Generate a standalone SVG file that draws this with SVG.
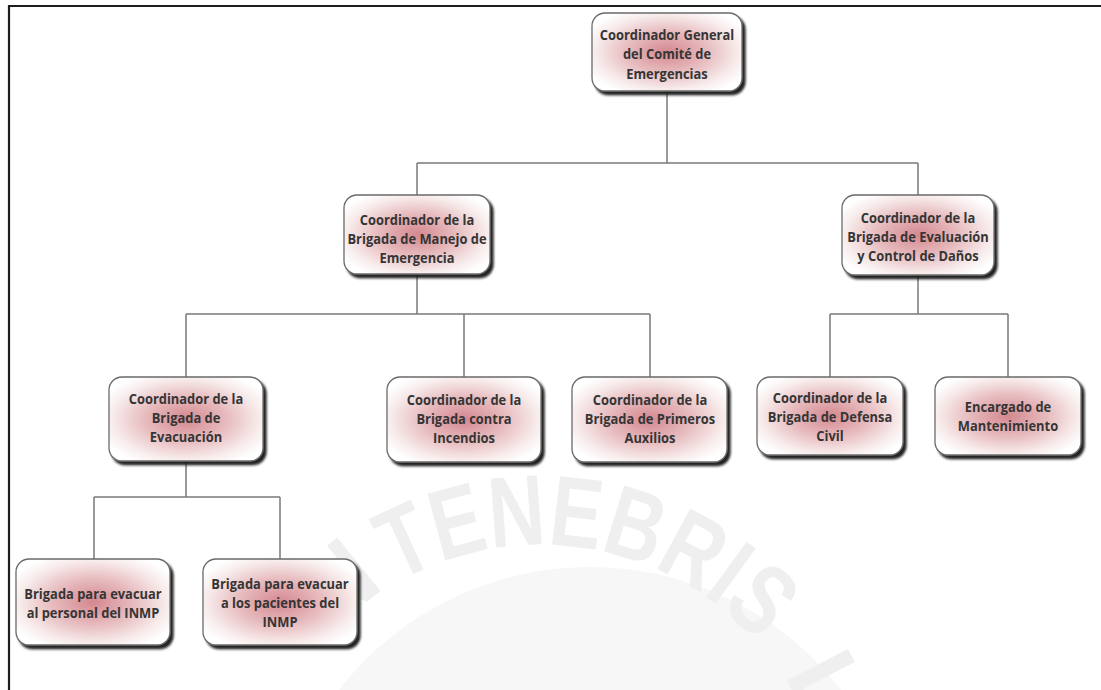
<svg xmlns="http://www.w3.org/2000/svg" width="1101" height="690" viewBox="0 0 1101 690">
<defs>
<radialGradient id="pink" cx="50%" cy="50%" r="60%">
<stop offset="0%" stop-color="#d4888f"/>
<stop offset="45%" stop-color="#e7bcbf"/>
<stop offset="80%" stop-color="#f8ecec"/>
<stop offset="100%" stop-color="#ffffff"/>
</radialGradient>
<filter id="shadow" x="-10%" y="-10%" width="125%" height="130%">
<feDropShadow dx="3" dy="3.5" stdDeviation="1.2" flood-color="#141414" flood-opacity="0.95"/>
</filter>
<path id="arc" d="M 250 835 A 290 290 0 0 1 830 835"/>
</defs>
<style>
.box{fill:url(#pink);stroke:#6a6a6a;stroke-width:1.3;filter:url(#shadow)}
.lbl{font-family:"Open Sans","Noto Sans","Liberation Sans",sans-serif;font-weight:bold;font-size:14.5px;fill:#353535;text-anchor:middle}
.con{fill:none;stroke:#7a7a7a;stroke-width:1.5}
.wm{font-family:"Liberation Sans",Arial,sans-serif;font-weight:bold;font-size:100px;fill:#efefef}
</style>
<rect width="1101" height="690" fill="#ffffff"/>
<g id="watermark">
<circle cx="590" cy="885" r="318" fill="#f7f7f7"/>
<text class="wm"><textPath href="#arc" startOffset="222">N</textPath></text>
<text class="wm"><textPath href="#arc" startOffset="306" textLength="395" lengthAdjust="spacingAndGlyphs">TENEBRIS</textPath></text>
<text class="wm"><textPath href="#arc" startOffset="742">L</textPath></text>
</g>
<g id="frame" stroke="#1e1e1e" stroke-width="2.2" fill="none">
<path d="M9 690 V6 H1101"/>
</g>
<g id="connectors">
<path class="con" d="M667 91 V163 M417 163 H918 M417 163 V195 M918 163 V195"/>
<path class="con" d="M417 274 V314 M186 314 H650 M186 314 V377 M464 314 V377 M650 314 V377"/>
<path class="con" d="M918 275 V314 M830 314 H1008 M830 314 V377 M1008 314 V377"/>
<path class="con" d="M186 461 V497 M94 497 H280 M94 497 V559 M280 497 V559"/>
</g>
<g id="n1">
<rect class="box" x="592" y="13" width="150" height="78" rx="13"/>
<g transform="matrix(0.89 0 0 1 667 0)">
<text class="lbl" x="0" y="40">Coordinador General</text>
<text class="lbl" x="0" y="59.5">del Comité de</text>
<text class="lbl" x="0" y="79">Emergencias</text>
</g>
</g>
<g id="n2">
<rect class="box" x="344" y="195" width="146" height="79" rx="13"/>
<g transform="matrix(0.89 0 0 1 417 0)">
<text class="lbl" x="0" y="225">Coordinador de la</text>
<text class="lbl" x="0" y="244">Brigada de Manejo de</text>
<text class="lbl" x="0" y="263">Emergencia</text>
</g>
</g>
<g id="n3">
<rect class="box" x="842" y="195" width="152" height="80" rx="13"/>
<g transform="matrix(0.89 0 0 1 918 0)">
<text class="lbl" x="0" y="223">Coordinador de la</text>
<text class="lbl" x="0" y="242">Brigada de Evaluación</text>
<text class="lbl" x="0" y="261">y Control de Daños</text>
</g>
</g>
<g id="n4">
<rect class="box" x="109" y="377" width="154" height="84" rx="13"/>
<g transform="matrix(0.89 0 0 1 186 0)">
<text class="lbl" x="0" y="404">Coordinador de la</text>
<text class="lbl" x="0" y="423">Brigada de</text>
<text class="lbl" x="0" y="442">Evacuación</text>
</g>
</g>
<g id="n5">
<rect class="box" x="387" y="377" width="154" height="85" rx="13"/>
<g transform="matrix(0.89 0 0 1 464 0)">
<text class="lbl" x="0" y="405">Coordinador de la</text>
<text class="lbl" x="0" y="424">Brigada contra</text>
<text class="lbl" x="0" y="443">Incendios</text>
</g>
</g>
<g id="n6">
<rect class="box" x="572" y="377" width="155" height="85" rx="13"/>
<g transform="matrix(0.89 0 0 1 650 0)">
<text class="lbl" x="0" y="405">Coordinador de la</text>
<text class="lbl" x="0" y="424">Brigada de Primeros</text>
<text class="lbl" x="0" y="443">Auxilios</text>
</g>
</g>
<g id="n7">
<rect class="box" x="757" y="377" width="146" height="78" rx="13"/>
<g transform="matrix(0.89 0 0 1 830 0)">
<text class="lbl" x="0" y="403">Coordinador de la</text>
<text class="lbl" x="0" y="422">Brigada de Defensa</text>
<text class="lbl" x="0" y="441">Civil</text>
</g>
</g>
<g id="n8">
<rect class="box" x="935" y="377" width="146" height="78" rx="13"/>
<g transform="matrix(0.89 0 0 1 1008 0)">
<text class="lbl" x="0" y="412">Encargado de</text>
<text class="lbl" x="0" y="431">Mantenimiento</text>
</g>
</g>
<g id="n9">
<rect class="box" x="16" y="559" width="154" height="86" rx="13"/>
<g transform="matrix(0.89 0 0 1 93 0)">
<text class="lbl" x="0" y="599">Brigada para evacuar</text>
<text class="lbl" x="0" y="618">al personal del INMP</text>
</g>
</g>
<g id="n10">
<rect class="box" x="203" y="559" width="154" height="86" rx="13"/>
<g transform="matrix(0.89 0 0 1 280 0)">
<text class="lbl" x="0" y="589">Brigada para evacuar</text>
<text class="lbl" x="0" y="608">a los pacientes del</text>
<text class="lbl" x="0" y="627">INMP</text>
</g>
</g>
</svg>
